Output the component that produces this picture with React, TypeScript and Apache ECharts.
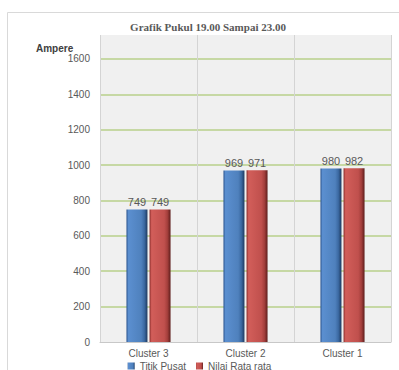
import React, { useEffect, useRef } from "react";
import * as echarts from "echarts";

const categories = ["Cluster 3", "Cluster 2", "Cluster 1"];
const titikPusat = [749, 969, 980];
const nilaiRataRata = [749, 971, 982];
const seriesNames = ["Titik Pusat", "Nilai Rata rata"];

const grad = (c: string[]) =>
  new echarts.graphic.LinearGradient(0, 0, 1, 0, [
    { offset: 0, color: c[0] },
    { offset: 0.1, color: c[1] },
    { offset: 0.7, color: c[2] },
    { offset: 0.85, color: c[3] },
    { offset: 1, color: c[4] },
  ]);

export default function App() {
  const ref = useRef<HTMLDivElement>(null);
  useEffect(() => {
    if (!ref.current) return;
    const chart = echarts.init(ref.current, null, { renderer: "svg" });
    const font = "Liberation Sans";
    chart.setOption({
      animation: false,
      backgroundColor: "#ffffff",
      title: [
        {
          text: "Grafik Pukul 19.00 Sampai 23.00",
          left: 203,
          textAlign: "center",
          top: 16,
          textStyle: { fontFamily: "Liberation Serif", fontWeight: "bold", fontSize: 11, color: "#595959" },
        },
        {
          text: "Ampere",
          left: 31,
          top: 38,
          textStyle: { fontFamily: font, fontWeight: "bold", fontSize: 10, color: "#404040" },
        },
      ],
      graphic: [
        {
          type: "rect",
          shape: { x: 7.5, y: 12.5, width: 420, height: 420 },
          style: { fill: "none", stroke: "#d9d9d9", lineWidth: 1 },
          z: -1,
        },
      ],
      legend: {
        data: seriesNames,
        top: 356,
        left: "center",
        itemWidth: 7,
        itemHeight: 7,
        itemGap: 10,
        icon: "rect",
        textStyle: { fontFamily: font, fontSize: 10, color: "#595959" },
      },
      grid: {
        left: 100,
        right: 8,
        top: 35,
        bottom: 28,
        show: true,
        backgroundColor: "#f0f0f0",
        borderWidth: 0,
      },
      xAxis: {
        type: "category",
        data: categories,
        axisLine: { show: true, lineStyle: { color: "#c8c8c8" } },
        axisTick: { show: false },
        splitLine: { show: true, lineStyle: { color: "#d4d4d4", width: 1 } },
        axisLabel: { fontFamily: font, fontSize: 10, color: "#595959", margin: 6 },
      },
      yAxis: {
        type: "value",
        min: 0,
        max: 1735,
        interval: 200,
        axisLine: { show: false },
        axisTick: { show: false },
        axisLabel: {
          fontFamily: font,
          fontSize: 10,
          color: "#595959",
          margin: 10,
          showMaxLabel: false,
          formatter: (v: number) => String(v),
        },
        splitLine: {
          show: true,
          showMinLine: false,
          showMaxLine: false,
          lineStyle: { color: "#b9d18b", width: 1.5 },
        },
      },
      series: [
        {
          name: seriesNames[0],
          type: "bar",
          data: titikPusat,
          barWidth: 21,
          barGap: "10%",
          itemStyle: {
            color: grad(["#2d5690", "#5b8fd0", "#4f81bd", "#3c6aa3", "#1d3a60"]),
          },
          label: { show: true, position: "top", distance: 2, fontFamily: font, fontSize: 11, color: "#595959" },
        },
        {
          name: seriesNames[1],
          type: "bar",
          data: nilaiRataRata,
          barWidth: 21,
          itemStyle: {
            color: grad(["#8c2e2c", "#d25e5a", "#c0504d", "#a43f3c", "#5e1e1c"]),
          },
          label: { show: true, position: "top", distance: 2, fontFamily: font, fontSize: 11, color: "#595959" },
        },
      ],
    });
    return () => chart.dispose();
  }, []);
  return <div ref={ref} style={{ position: "fixed", left: 0, top: 0, width: 399, height: 370 }} />;
}
